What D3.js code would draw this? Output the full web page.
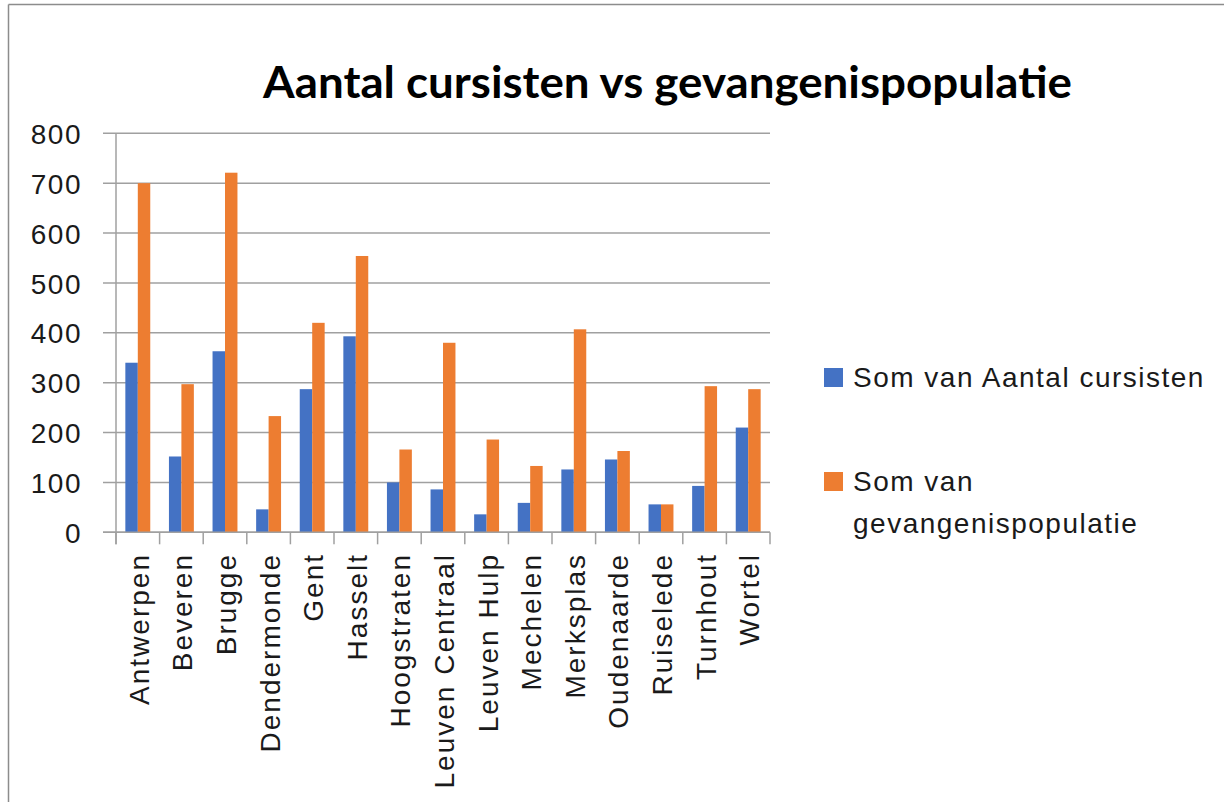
<!DOCTYPE html>
<html>
<head>
<meta charset="utf-8">
<script src="https://cdn.jsdelivr.net/npm/d3@7/dist/d3.min.js"></script>
<style>
  html, body { margin: 0; padding: 0; background: #fff; }
  svg { display: block; }
</style>
</head>
<body>
<svg id="chart" width="1224" height="802"></svg>
<script>
const categories = ["Antwerpen", "Beveren", "Brugge", "Dendermonde", "Gent", "Hasselt", "Hoogstraten",
  "Leuven Centraal", "Leuven Hulp", "Mechelen", "Merksplas", "Oudenaarde", "Ruiselede", "Turnhout", "Wortel"];
const cursisten = [340, 152, 363, 46, 287, 393, 100, 86, 36, 59, 126, 146, 56, 93, 210];
const populatie = [700, 297, 721, 233, 420, 554, 166, 380, 186, 133, 407, 163, 56, 293, 287];
const seriesNames = ["Som van Aantal cursisten", "Som van gevangenispopulatie"];
const seriesColors = ["#4472C4", "#ED7D31"];
const yTicks = [0, 100, 200, 300, 400, 500, 600, 700, 800];
const titleText = "Aantal cursisten vs gevangenispopulatie";

const svg = d3.select("#chart");
const font = "'Liberation Sans', Arial, sans-serif";
const textColor = "#1a1a1a";

// outer frame (top and left edges visible)
svg.append("line").attr("x1", 8.5).attr("x2", 1224).attr("y1", 4.5).attr("y2", 4.5)
  .attr("stroke", "#8c8c8c").attr("stroke-width", 1.5);
svg.append("line").attr("x1", 8.5).attr("x2", 8.5).attr("y1", 4.5).attr("y2", 802)
  .attr("stroke", "#8c8c8c").attr("stroke-width", 1.5);

const plot = { left: 116, right: 770, top: 133.3, bottom: 532.3 };

const x = d3.scaleBand().domain(categories).range([plot.left, plot.right]).padding(0);
const y = d3.scaleLinear().domain([0, 800]).range([plot.bottom, plot.top]);

// gridlines + y ticks
const gridColor = "#a0a0a0";
svg.append("g").selectAll("line").data(yTicks).join("line")
  .attr("x1", plot.left - 13).attr("x2", plot.right)
  .attr("y1", d => y(d)).attr("y2", d => y(d))
  .attr("stroke", gridColor).attr("stroke-width", 1.5);

// y labels
svg.append("g").selectAll("text").data(yTicks).join("text")
  .attr("x", 82).attr("y", d => y(d)).attr("dy", "0.38em")
  .attr("text-anchor", "end")
  .attr("font-family", font).attr("font-size", 28).attr("letter-spacing", 1.5)
  .attr("fill", textColor)
  .text(d => d);

// bars
const step = x.step();
const bw = step / 3.5;
const series = [cursisten, populatie];
series.forEach((vals, si) => {
  svg.append("g").selectAll("rect").data(categories).join("rect")
    .attr("x", (c) => x(c) + step / 2 - bw + si * bw)
    .attr("width", bw)
    .attr("y", (c, i) => y(vals[i]))
    .attr("height", (c, i) => y(0) - y(vals[i]))
    .attr("fill", seriesColors[si]);
});

// axes lines
svg.append("line").attr("x1", plot.left).attr("x2", plot.left)
  .attr("y1", plot.top).attr("y2", plot.bottom + 12)
  .attr("stroke", gridColor).attr("stroke-width", 1.5);
svg.append("line").attr("x1", plot.left - 13).attr("x2", plot.right)
  .attr("y1", plot.bottom).attr("y2", plot.bottom)
  .attr("stroke", gridColor).attr("stroke-width", 1.5);
// x ticks at category boundaries
const bounds = categories.map(c => x(c)).concat([plot.right]);
svg.append("g").selectAll("line").data(bounds).join("line")
  .attr("x1", d => d).attr("x2", d => d)
  .attr("y1", plot.bottom).attr("y2", plot.bottom + 12)
  .attr("stroke", gridColor).attr("stroke-width", 1.5);

// x labels rotated
svg.append("g").selectAll("text").data(categories).join("text")
  .attr("transform", c => `translate(${x(c) + step / 2 + 1},553) rotate(-90)`)
  .attr("dy", "0.36em")
  .attr("text-anchor", "end")
  .attr("font-family", font).attr("font-size", 28).attr("letter-spacing", 2.0)
  .attr("fill", textColor)
  .text(c => c);

// title
svg.append("text")
  .attr("x", 263).attr("y", 98)
  .attr("font-family", "Lato, 'Open Sans', sans-serif").attr("font-weight", "bold")
  .attr("font-size", 43)
  .attr("textLength", 809).attr("lengthAdjust", "spacingAndGlyphs")
  .attr("fill", "#000")
  .text(titleText);

// legend
const legend = svg.append("g");
legend.append("rect").attr("x", 824).attr("y", 368).attr("width", 19).attr("height", 19).attr("fill", seriesColors[0]);
legend.append("text").attr("x", 853).attr("y", 387)
  .attr("font-family", font).attr("font-size", 28).attr("letter-spacing", 1.5).attr("fill", textColor)
  .text(seriesNames[0]);
legend.append("rect").attr("x", 824).attr("y", 472).attr("width", 19).attr("height", 19).attr("fill", seriesColors[1]);
const parts = seriesNames[1].split(" ");
legend.append("text").attr("x", 853).attr("y", 491)
  .attr("font-family", font).attr("font-size", 28).attr("letter-spacing", 1.5).attr("fill", textColor)
  .text(parts.slice(0, 2).join(" "));
legend.append("text").attr("x", 853).attr("y", 533)
  .attr("font-family", font).attr("font-size", 28).attr("letter-spacing", 1.5).attr("fill", textColor)
  .text(parts.slice(2).join(" "));
</script>
</body>
</html>
